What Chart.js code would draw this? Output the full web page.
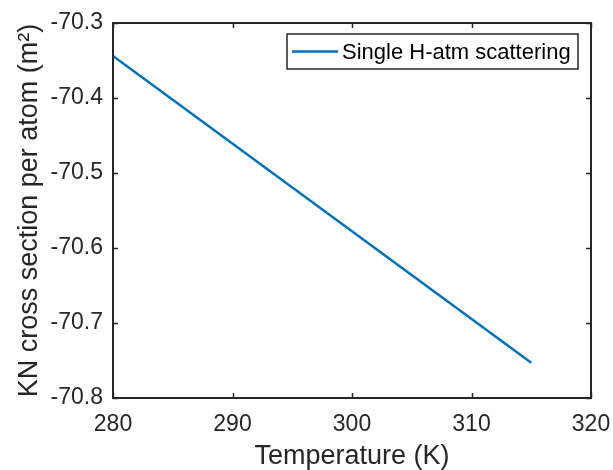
<!DOCTYPE html>
<html>
<head>
<meta charset="utf-8">
<script src="https://cdn.jsdelivr.net/npm/chart.js@4/dist/chart.umd.min.js"></script>
<style>
html,body{margin:0;padding:0;background:#fff;}
#c{display:block;}
</style>
</head>
<body>
<canvas id="c" width="613" height="470"></canvas>
<script>
// ---- data ----
const temperatures = [280, 315];
const crossSection = [-70.344, -70.753];
const seriesLabel = 'Single H-atm scattering';
const xTickValues = [280, 290, 300, 310, 320];
const yTickValues = [-70.8, -70.7, -70.6, -70.5, -70.4, -70.3];
const xTitle = 'Temperature (K)';
const yTitle = 'KN cross section per atom (m\u00B2)';

const FONT = '"Liberation Sans", Arial, Helvetica, sans-serif';
const INK = '#262626';
const BLUE = '#0072BD';

const framePlugin = {
  id: 'frame',
  afterDraw(chart) {
    const {ctx, chartArea: a, scales} = chart;
    ctx.save();
    // inward ticks
    ctx.strokeStyle = INK;
    ctx.lineWidth = 1.5;
    const tl = 5;
    ctx.beginPath();
    xTickValues.forEach(v => {
      const x = Math.round(scales.x.getPixelForValue(v)) + 0.5;
      ctx.moveTo(x, a.bottom); ctx.lineTo(x, a.bottom - tl);
      ctx.moveTo(x, a.top); ctx.lineTo(x, a.top + tl);
    });
    yTickValues.forEach(v => {
      const y = Math.round(scales.y.getPixelForValue(v)) + 0.5;
      ctx.moveTo(a.left, y); ctx.lineTo(a.left + tl, y);
      ctx.moveTo(a.right, y); ctx.lineTo(a.right - tl, y);
    });
    ctx.stroke();
    // box
    ctx.lineWidth = 2;
    ctx.strokeRect(a.left, a.top, a.right - a.left, a.bottom - a.top);

    // legend
    const lw = 291, lh = 35;
    const lx = a.right - 13 - lw, ly = a.top + 11;
    ctx.fillStyle = '#fff';
    ctx.fillRect(lx, ly, lw, lh);
    ctx.lineWidth = 1.5;
    ctx.strokeStyle = INK;
    ctx.strokeRect(lx, ly, lw, lh);
    const ds = chart.data.datasets[0];
    ctx.strokeStyle = ds.borderColor;
    ctx.lineWidth = 2.5;
    ctx.beginPath();
    ctx.moveTo(lx + 5, ly + lh / 2);
    ctx.lineTo(lx + 51, ly + lh / 2);
    ctx.stroke();
    ctx.fillStyle = '#000';
    ctx.font = '22px ' + FONT;
    ctx.textBaseline = 'middle';
    ctx.textAlign = 'left';
    ctx.fillText(ds.label, lx + 55, ly + lh / 2 + 1);
    ctx.restore();
  }
};

new Chart(document.getElementById('c'), {
  type: 'line',
  data: {
    datasets: [{
      label: seriesLabel,
      data: temperatures.map((t, i) => ({x: t, y: crossSection[i]})),
      borderColor: BLUE,
      borderWidth: 2.5,
      pointRadius: 0,
      fill: false,
      tension: 0
    }]
  },
  options: {
    responsive: false,
    animation: false,
    devicePixelRatio: 1,
    layout: {padding: {top: 23, right: 22, left: 0, bottom: 0}},
    plugins: {legend: {display: false}, tooltip: {enabled: false}},
    scales: {
      x: {
        type: 'linear',
        min: 280, max: 320,
        afterBuildTicks: s => { s.ticks = xTickValues.map(v => ({value: v})); },
        afterFit: s => { s.height = 72; s.paddingLeft = 0; s.paddingRight = 0; },
        grid: {display: false, drawTicks: false},
        border: {display: false},
        ticks: {
          padding: 13,
          color: INK,
          font: {family: FONT, size: 23},
          maxRotation: 0,
          autoSkip: false,
          callback: v => String(v)
        },
        title: {
          display: true, text: xTitle, color: INK,
          font: {family: FONT, size: 27, lineHeight: 1},
          padding: {top: 0, bottom: 0}
        }
      },
      y: {
        min: -70.8, max: -70.3,
        afterBuildTicks: s => { s.ticks = yTickValues.map(v => ({value: v})); },
        afterFit: s => { s.width = 113; s.paddingTop = 0; s.paddingBottom = 0; },
        grid: {display: false, drawTicks: false},
        border: {display: false},
        ticks: {
          padding: 10,
          color: INK,
          font: {family: FONT, size: 23},
          autoSkip: false,
          callback: v => Number(v).toFixed(1)
        },
        title: {
          display: true, text: yTitle, color: INK,
          font: {family: FONT, size: 27, lineHeight: 1},
          padding: {top: 16, bottom: 0}
        }
      }
    }
  },
  plugins: [framePlugin]
});
</script>
</body>
</html>
